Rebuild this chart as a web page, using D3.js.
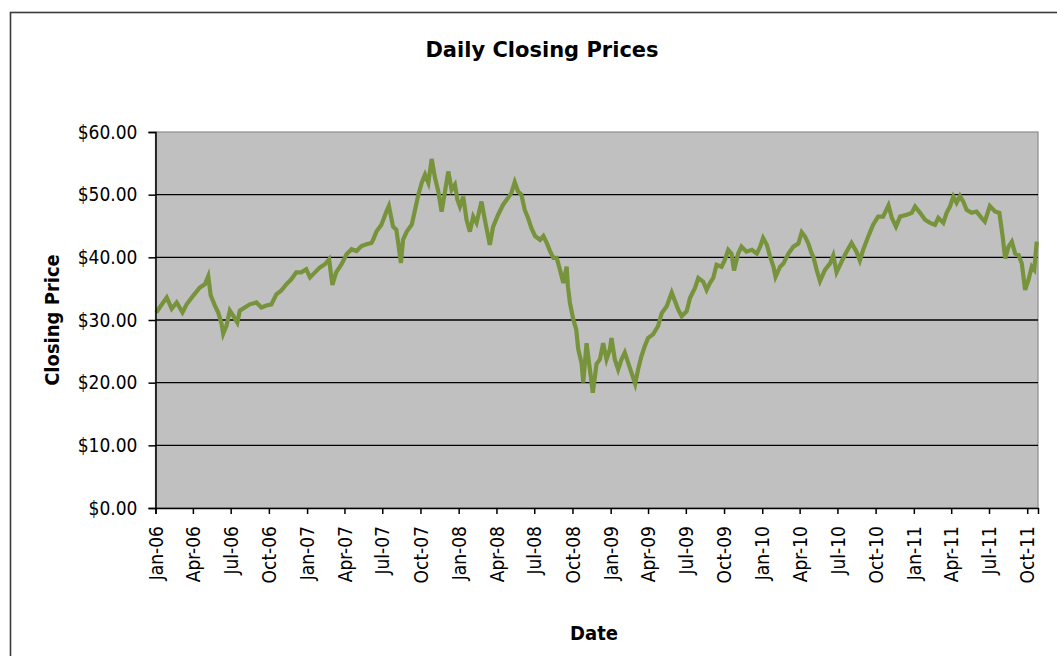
<!DOCTYPE html>
<html>
<head>
<meta charset="utf-8">
<script src="https://cdn.jsdelivr.net/npm/d3@7"></script>
<style>
  body { margin: 0; background: #fff; }
  text { font-family: "DejaVu Sans Condensed", "DejaVu Sans", sans-serif; font-stretch: condensed; fill: #000; }
  text.title { font-family: "DejaVu Sans", sans-serif; font-stretch: normal; }
</style>
</head>
<body>
<div id="chart"></div>
<script>
var chartTitle = 'Daily Closing Prices';
var xTitle = 'Date';
var yTitle = 'Closing Price';

var yTicks = [0, 10, 20, 30, 40, 50, 60];
var yGrid = [10, 20, 30, 40, 50];
var xDomain = ['2006-01-01', '2011-10-27'];

var closeDates = [
  '2006-01-03', '2006-01-11', '2006-01-28', '2006-02-09', '2006-02-21', '2006-03-07', '2006-03-17',
  '2006-04-02', '2006-04-18', '2006-04-30', '2006-05-08', '2006-05-14', '2006-05-24', '2006-06-01',
  '2006-06-09', '2006-06-13', '2006-06-21', '2006-06-29', '2006-07-07', '2006-07-17', '2006-07-23',
  '2006-08-04', '2006-08-16', '2006-09-01', '2006-09-13', '2006-09-25', '2006-10-07', '2006-10-19',
  '2006-10-31', '2006-11-12', '2006-11-24', '2006-12-06', '2006-12-18', '2006-12-30', '2007-01-08',
  '2007-01-20', '2007-02-01', '2007-02-13', '2007-02-23', '2007-03-03', '2007-03-12', '2007-03-25',
  '2007-04-06', '2007-04-18', '2007-04-30', '2007-05-12', '2007-05-24', '2007-06-05', '2007-06-09',
  '2007-06-17', '2007-06-29', '2007-07-11', '2007-07-17', '2007-07-27', '2007-08-04', '2007-08-15',
  '2007-08-20', '2007-08-29', '2007-09-10', '2007-09-18', '2007-09-26', '2007-10-04', '2007-10-12',
  '2007-10-20', '2007-10-28', '2007-11-05', '2007-11-13', '2007-11-21', '2007-11-29', '2007-12-07',
  '2007-12-15', '2007-12-23', '2007-12-29', '2008-01-04', '2008-01-12', '2008-01-20', '2008-01-28',
  '2008-02-05', '2008-02-13', '2008-02-25', '2008-03-04', '2008-03-16', '2008-03-24', '2008-04-05',
  '2008-04-17', '2008-04-29', '2008-05-07', '2008-05-15', '2008-05-23', '2008-05-31', '2008-06-08',
  '2008-06-16', '2008-06-24', '2008-07-03', '2008-07-15', '2008-07-23', '2008-07-31', '2008-08-08',
  '2008-08-16', '2008-08-24', '2008-09-01', '2008-09-09', '2008-09-17', '2008-09-20', '2008-09-25',
  '2008-10-03', '2008-10-10', '2008-10-15', '2008-10-23', '2008-10-27', '2008-11-04', '2008-11-12',
  '2008-11-19', '2008-11-28', '2008-12-06', '2008-12-14', '2008-12-22', '2008-12-30', '2009-01-03',
  '2009-01-11', '2009-01-19', '2009-01-27', '2009-02-04', '2009-02-12', '2009-02-20', '2009-03-01',
  '2009-03-08', '2009-03-16', '2009-03-24', '2009-04-01', '2009-04-13', '2009-04-25', '2009-05-04',
  '2009-05-16', '2009-05-28', '2009-06-05', '2009-06-13', '2009-06-21', '2009-07-03', '2009-07-11',
  '2009-07-23', '2009-07-31', '2009-08-12', '2009-08-20', '2009-08-28', '2009-09-05', '2009-09-13',
  '2009-09-25', '2009-10-03', '2009-10-11', '2009-10-19', '2009-10-25', '2009-11-04', '2009-11-12',
  '2009-11-24', '2009-12-07', '2009-12-19', '2009-12-27', '2010-01-03', '2010-01-12', '2010-01-20',
  '2010-01-28', '2010-02-02', '2010-02-13', '2010-02-21', '2010-03-05', '2010-03-17', '2010-03-29',
  '2010-04-06', '2010-04-14', '2010-04-22', '2010-04-30', '2010-05-04', '2010-05-12', '2010-05-20',
  '2010-06-01', '2010-06-13', '2010-06-21', '2010-06-29', '2010-07-11', '2010-07-23', '2010-08-04',
  '2010-08-16', '2010-08-24', '2010-09-01', '2010-09-13', '2010-09-25', '2010-10-07', '2010-10-19',
  '2010-11-01', '2010-11-09', '2010-11-19', '2010-11-29', '2010-12-15', '2010-12-27', '2011-01-04',
  '2011-01-16', '2011-01-28', '2011-02-09', '2011-02-21', '2011-03-01', '2011-03-13', '2011-03-21',
  '2011-03-29', '2011-04-06', '2011-04-14', '2011-04-22', '2011-04-30', '2011-05-08', '2011-05-20',
  '2011-06-01', '2011-06-13', '2011-06-21', '2011-07-03', '2011-07-16', '2011-07-26', '2011-08-03',
  '2011-08-09', '2011-08-17', '2011-08-25', '2011-09-02', '2011-09-10', '2011-09-18', '2011-09-26',
  '2011-10-04', '2011-10-12', '2011-10-18', '2011-10-24'
];

var closePrices = [
  31.2, 32.0, 33.6, 31.8, 32.8, 31.2, 32.5,
  33.9, 35.2, 35.7, 37.0, 33.9, 32.3, 31.2,
  29.4, 27.8, 29.1, 31.5, 30.7, 29.6, 31.5,
  32.0, 32.5, 32.8, 32.0, 32.3, 32.5, 34.1,
  34.7, 35.7, 36.5, 37.6, 37.6, 38.1, 36.8,
  37.6, 38.4, 38.9, 39.7, 35.6, 37.6, 38.9,
  40.5, 41.3, 41.0, 41.8, 42.1, 42.3, 42.8,
  44.1, 45.2, 47.3, 48.2, 44.9, 44.4, 39.1,
  42.8, 44.1, 45.2, 47.6, 50.0, 51.9, 53.2,
  51.9, 55.7, 52.7, 50.5, 47.3, 50.5, 53.7,
  50.8, 51.6, 49.2, 48.1, 49.7, 46.0, 44.1,
  46.5, 45.5, 48.9, 46.0, 42.0, 44.9, 46.8,
  48.4, 49.5, 50.3, 52.0, 50.5, 50.0, 47.6,
  46.3, 44.7, 43.4, 42.8, 43.4, 42.3, 41.0,
  39.9, 39.9, 38.0, 35.9, 38.5, 35.4, 32.7,
  30.1, 28.5, 25.3, 23.1, 20.0, 26.3, 22.1,
  18.4, 23.0, 23.7, 26.3, 23.7, 25.3, 27.1,
  23.7, 22.1, 23.7, 24.8, 23.2, 21.6, 19.8,
  22.1, 24.2, 25.8, 27.1, 27.7, 29.0, 31.1,
  32.2, 34.4, 33.0, 31.6, 30.6, 31.4, 33.5,
  35.1, 36.7, 36.1, 34.8, 35.9, 36.7, 38.8,
  38.5, 39.6, 41.2, 40.6, 37.9, 40.6, 41.7,
  40.9, 41.2, 40.6, 41.7, 43.1, 42.0, 40.1,
  38.5, 36.9, 38.5, 39.0, 40.6, 41.7, 42.2,
  44.0, 43.3, 42.2, 40.6, 40.1, 38.0, 36.2,
  38.0, 39.0, 40.3, 37.6, 39.3, 40.9, 42.3,
  40.9, 39.5, 41.2, 43.3, 45.2, 46.5, 46.5,
  48.3, 46.3, 44.9, 46.5, 46.8, 47.1, 48.1,
  47.1, 46.0, 45.5, 45.2, 46.3, 45.5, 47.1,
  48.1, 49.7, 48.7, 49.8, 48.9, 47.6, 47.1,
  47.3, 46.3, 45.7, 48.2, 47.3, 47.1, 43.3,
  39.8, 41.7, 42.5, 40.6, 40.4, 39.0, 34.8,
  36.4, 38.5, 38.0, 42.5
];

var width = 1057, height = 656;
var plot = { left: 155.5, right: 1038, top: 132, bottom: 508 };

var parseDate = d3.timeParse('%Y-%m-%d');
var series = closeDates.map(function(d, i) {
  return { date: parseDate(d), value: closePrices[i] };
});

var x = d3.scaleTime()
  .domain(xDomain.map(parseDate))
  .range([plot.left, plot.right]);

var y = d3.scaleLinear()
  .domain([0, 60])
  .range([plot.bottom, plot.top]);

var svg = d3.select('#chart').append('svg')
  .attr('width', width)
  .attr('height', height);

// outer chart border (runs off the right and bottom edges)
svg.append('rect')
  .attr('x', 10.5)
  .attr('y', 12.5)
  .attr('width', 1100)
  .attr('height', 700)
  .attr('fill', '#fff')
  .attr('stroke', '#3a3a3a')
  .attr('stroke-width', 1.6);

svg.append('rect')
  .attr('x', plot.left)
  .attr('y', plot.top)
  .attr('width', plot.right - plot.left)
  .attr('height', plot.bottom - plot.top)
  .attr('fill', '#c0c0c0')
  .attr('stroke', '#8c8c8c')
  .attr('stroke-width', 1.2);

svg.append('g')
  .selectAll('line')
  .data(yGrid)
  .enter()
  .append('line')
  .attr('x1', plot.left)
  .attr('x2', plot.right)
  .attr('y1', function(d) { return y(d); })
  .attr('y2', function(d) { return y(d); })
  .attr('stroke', '#000')
  .attr('stroke-width', 1.3);

var line = d3.line()
  .x(function(d) { return x(d.date); })
  .y(function(d) { return y(d.value); });

svg.append('path')
  .datum(series)
  .attr('d', line)
  .attr('fill', 'none')
  .attr('stroke', '#77933c')
  .attr('stroke-width', 4.2);

var yAxis = d3.axisLeft(y)
  .tickValues(yTicks)
  .tickSize(7)
  .tickPadding(11)
  .tickFormat(function(d) { return '$' + d3.format('.2f')(d); });

var gy = svg.append('g')
  .attr('transform', 'translate(' + plot.left + ',0)')
  .call(yAxis);

var xAxis = d3.axisBottom(x)
  .ticks(d3.timeMonth.every(3))
  .tickSize(6)
  .tickFormat(d3.timeFormat('%b-%y'));

var gx = svg.append('g')
  .attr('transform', 'translate(0,' + plot.bottom + ')')
  .call(xAxis);

[gx, gy].forEach(function(g) {
  g.select('.domain').attr('stroke', '#000').attr('stroke-width', 1.5);
  g.selectAll('.tick line').attr('stroke', '#000').attr('stroke-width', 1.5);
  g.selectAll('.tick text').attr('font-size', 19).attr('font-family', null);
});

gx.selectAll('.tick text')
  .attr('text-anchor', 'end')
  .attr('transform', 'translate(0,18) rotate(-90)')
  .attr('x', 0)
  .attr('y', 0)
  .attr('dy', '0.35em');

svg.append('text')
  .attr('class', 'title')
  .attr('x', 542)
  .attr('y', 57)
  .attr('text-anchor', 'middle')
  .attr('font-size', 21)
  .attr('font-weight', 'bold')
  .text(chartTitle);

svg.append('text')
  .attr('x', 594)
  .attr('y', 640)
  .attr('text-anchor', 'middle')
  .attr('font-size', 20)
  .attr('font-weight', 'bold')
  .text(xTitle);

svg.append('text')
  .attr('transform', 'translate(59,320) rotate(-90)')
  .attr('text-anchor', 'middle')
  .attr('font-size', 20)
  .attr('font-weight', 'bold')
  .text(yTitle);
</script>
</body>
</html>
